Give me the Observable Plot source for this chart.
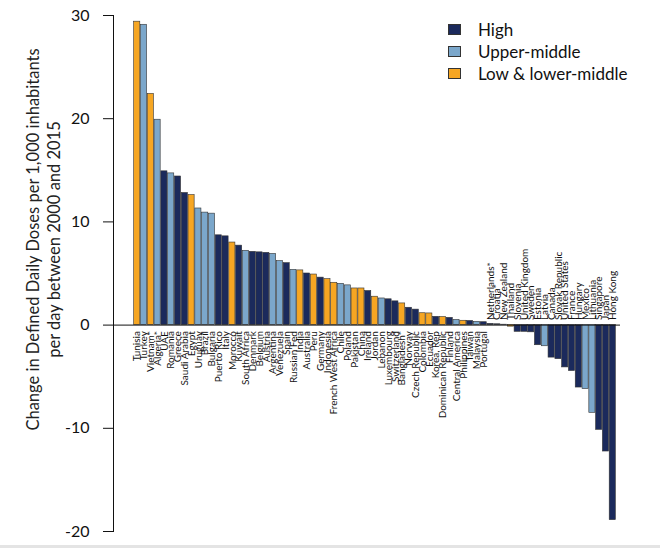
<!DOCTYPE html>
<html><head><meta charset="utf-8">
<script src="https://cdn.jsdelivr.net/npm/d3@7"></script>
<script src="https://cdn.jsdelivr.net/npm/@observablehq/plot@0.6"></script>
<style>
body{margin:0;background:#fff;}
#wrap{position:relative;width:660px;height:548px;overflow:hidden;background:#fff;}
#legend{position:absolute;left:448px;top:18px;font-family:Lato,sans-serif;font-size:17px;color:#111;}
#legend .row{display:flex;align-items:center;height:22px;}
#legend .sw{width:13px;height:11px;border:1px solid #333;box-sizing:border-box;margin-right:17px;}
#bottomline{position:absolute;left:0;right:0;bottom:0;height:3px;background:#e4e4e4;}
</style></head><body><div id="wrap"></div>
<script>
const countries = ["Tunisia","Turkey","Vietnam*","Algeria*","UAE","Romania","Greece","Saudi Arabia","Egypt","Uruguay","Brazil","Bulgaria","Puerto Rico","Italy","Morocco","Kuwait","South Africa","Denmark","Belgium","Austria","Argentina","Venezuela","Spain","Russian Fed","India","Australia","Peru","Germany","Indonesia","French West Africa","Chile","Poland","Pakistan","China","Ireland","Jordan","Lebanon","Luxembourg","Switzerland","Bangladesh*","Norway","Czech Republic","Colombia","Ecuador","Korea, Rep","Dominican Republic","Finland","Central America","Philippines","Taiwan","Malaysia","Portugal","Netherlands*","Croatia*","New Zealand","Thailand","Slovenia","United Kingdom","Sweden","Estonia","Latvia","Canada","Slovak Republic","United States","France","Hungary","Mexico","Lithuania","Singapore","Japan","Hong Kong"];
const values = [29.4,29.1,22.4,19.9,14.9,14.7,14.4,12.8,12.6,11.3,10.9,10.8,8.7,8.6,8.0,7.7,7.2,7.1,7.05,7.0,6.9,6.2,6.0,5.35,5.3,5.0,4.9,4.6,4.45,4.1,4.0,3.85,3.55,3.55,3.3,2.75,2.58,2.5,2.3,2.1,1.68,1.5,1.15,1.13,0.8,0.78,0.7,0.5,0.42,0.4,0.32,0.28,0.12,0.08,0.04,-0.15,-0.65,-0.65,-0.7,-1.95,-2.05,-3.15,-3.3,-4.1,-4.45,-6.05,-6.2,-8.5,-10.15,-12.25,-18.9];
// 0 = High, 1 = Upper-middle, 2 = Low & lower-middle
const income = [2,1,2,1,0,1,0,0,2,1,1,1,0,0,2,0,1,0,0,0,1,1,0,1,2,0,2,0,2,2,1,1,2,2,0,2,1,0,0,2,0,0,2,2,0,2,0,1,2,0,1,0,0,0,0,2,0,0,0,0,1,0,0,0,0,0,1,1,0,0,0];
const incomeGroups = ["High","Upper-middle","Low & lower-middle"];
const incomeColors = ["#1b2a5c","#7ba7cb","#f6a623"];
const yTicks = [30,20,10,0,-10,-20];
const yLabel = "Change in Defined Daily Doses per 1,000 inhabitants\nper day between 2000 and 2015";

const data = countries.map((c,i)=>({country:c, value:values[i], income:incomeGroups[income[i]]}));

const plot = Plot.plot({
  width:660, height:548,
  marginLeft:113, marginRight:40, marginTop:15, marginBottom:17,
  style:{fontFamily:"Lato, sans-serif", background:"white", color:"#111"},
  x:{domain:countries, range:[133,616], padding:0.1, axis:null},
  y:{domain:[-20,30]},
  color:{domain:incomeGroups, range:incomeColors},
  marks:[
    Plot.barY(data,{x:"country", y:"value", fill:"income", stroke:"#333", strokeWidth:0.6}),
    Plot.ruleY([0],{stroke:"#111", strokeWidth:1}),
    Plot.frame({anchor:"left", stroke:"#111"}),
    Plot.axisY({ticks:yTicks, tickSize:10, tickPadding:14, fontSize:16, tickFormat:d=>String(d), label:null}),
    Plot.text(data.filter(d=>d.value>=0.2),{x:"country", y:0, text:"country", rotate:-90, textAnchor:"end", dy:6, fontSize:10, fill:"#111"}),
    Plot.text(data.filter(d=>d.value<0.2),{x:"country", y:0, text:"country", rotate:-90, textAnchor:"start", dy:-5, fontSize:10, fill:"#111"}),
    Plot.text([yLabel],{frameAnchor:"left", textAnchor:"middle", rotate:-90, dx:-71, dy:-34, text:d=>d, fontSize:16.5, lineHeight:1.3, fill:"#222"})
  ]
});

const wrap = document.getElementById("wrap");
wrap.appendChild(plot);
const legend = document.createElement("div");
legend.id = "legend";
incomeGroups.forEach((g,i)=>{
  const row = document.createElement("div");
  row.className = "row";
  const sw = document.createElement("div");
  sw.className = "sw";
  sw.style.background = incomeColors[i];
  const t = document.createElement("span");
  t.textContent = g;
  row.appendChild(sw); row.appendChild(t);
  legend.appendChild(row);
});
wrap.appendChild(legend);
const bl = document.createElement("div");
bl.id = "bottomline";
wrap.appendChild(bl);
</script></body></html>
